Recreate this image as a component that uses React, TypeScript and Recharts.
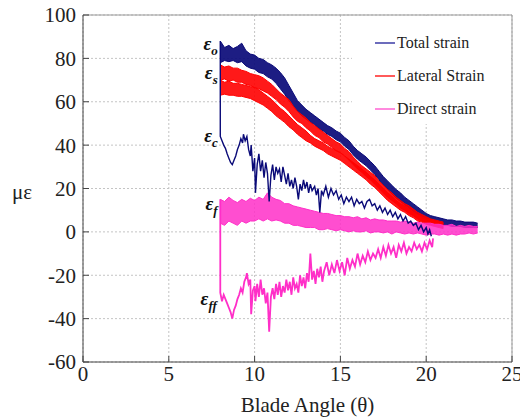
import React from 'react';
import { ComposedChart, Line, Area, XAxis, YAxis, CartesianGrid, ReferenceLine, ReferenceDot } from 'recharts';

const FONT = '"Liberation Serif", "Times New Roman", serif';
const NAVY = '#0a0a78';
const RED = '#ff0000';
const PINK = '#ff2fc8';

const xTicks = [0, 5, 10, 15, 20, 25];
const yTicks = [-60, -40, -20, 0, 20, 40, 60, 80, 100];

// blade angle samples for the dense bands
const bandX = [
  8, 8.25, 8.5, 8.75, 9, 9.25, 9.5, 9.75, 10, 10.25, 10.5, 10.75, 11, 11.25, 11.5, 11.75,
  12, 12.25, 12.5, 12.75, 13, 13.25, 13.5, 13.75, 14, 14.25, 14.5, 14.75, 15, 15.25, 15.5, 15.75,
  16, 16.25, 16.5, 16.75, 17, 17.25, 17.5, 17.75, 18, 18.25, 18.5, 18.75, 19, 19.25, 19.5, 19.75,
  20, 20.25, 20.5, 20.75, 21, 21.25, 21.5, 21.75, 22, 22.25, 22.5, 22.75, 23,
];

// total strain, eps_o band (upper / lower edge)
const totalHigh = [
  88, 85, 86, 84.5, 85.5, 87, 83.5, 82, 81.5, 80, 79.5, 78, 77, 75.5, 73.5, 71,
  67.5, 64, 60.5, 58.5, 56.5, 55, 53.5, 52, 50.5, 49, 48, 46.5, 45.5, 43.5, 42, 39.5,
  37.5, 36, 34.5, 32.5, 30.5, 28, 25.5, 23.5, 21.5, 19.5, 18, 16, 14.5, 13, 11.5, 10,
  8.5, 7.5, 7, 6.5, 6, 5.5, 5.5, 5, 5, 4.5, 4.5, 4.5, 4,
];
const totalLow = [
  78, 79, 78.5, 79, 78, 78.5, 76.5, 75.5, 75, 73.5, 73, 71.5, 70.5, 68.5, 66, 63.5,
  60.5, 58, 55.5, 53.5, 52, 50.5, 49.5, 47.5, 46.5, 45, 44, 42.5, 41.5, 39.5, 38, 35.5,
  33.5, 32, 30.5, 28.5, 26.5, 24, 21.5, 19.5, 17.5, 15.5, 14, 12.5, 11, 9.5, 8, 6.5,
  5.5, 4.5, 4, 3.5, 3, 3, 2.5, 2.5, 2.5, 2, 2, 2, 2,
];

// lateral strain, eps_s: two bands from 8 to 21
const latUpHigh = [
  77, 76, 76.5, 75.5, 75.5, 74.5, 74, 73, 72.5, 72, 71, 69.5, 68, 66, 64, 62.5,
  61, 58, 55.5, 54, 52.5, 50.5, 49, 47.5, 46, 44.5, 43, 41.5, 40.5, 38.5, 37, 34.5,
  32.5, 30.5, 29, 27.5, 26, 23.5, 21.5, 19.5, 18, 16, 14.5, 13, 12, 10.5, 9, 8,
  7, 6, 5.5, 5, 4.5,
];
const latUpLow = [
  70, 70.5, 69.5, 70, 69, 69, 68, 67.5, 66.5, 66, 65, 64, 62.5, 61, 59, 57.5,
  55.5, 53, 51, 50, 48, 46.5, 44.5, 43.5, 41.5, 40.5, 39, 37.5, 36.5, 35, 33, 31,
  29, 27.5, 25.5, 24, 22, 20, 18, 16, 14.5, 13, 11, 10, 8.5, 7.5, 6, 5,
  4, 3.5, 3, 2.5, 2,
];
const latLowHigh = [
  70, 69, 69.5, 68.5, 68.5, 68, 67.5, 67, 66.5, 65.5, 64, 62.5, 61, 59, 57, 55.5,
  53.5, 51.5, 49.5, 48, 46.5, 44.5, 43, 42, 41, 39.5, 38.5, 37.5, 36.5, 35, 33.5, 32,
  30.5, 29, 27.5, 25.5, 24, 22, 20, 18, 16.5, 14.5, 13, 12, 10.5, 9, 8, 7,
  6, 5.5, 5, 4.5, 4,
];
const latLowLow = [
  63, 63.5, 63, 63, 62.5, 62.5, 62, 61.5, 60.5, 59.5, 58.5, 57, 55.5, 53.5, 52, 50.5,
  48.5, 47, 45, 43.5, 42, 41, 39.5, 38.5, 37.5, 36, 35, 34, 33, 31.5, 30, 28.5,
  27, 25.5, 24, 22, 20.5, 18.5, 16.5, 14.5, 13, 11.5, 10, 9, 7.5, 6.5, 5, 4.5,
  3.5, 3, 2.5, 2, 1.5,
];

// direct strain, eps_f band
const directHigh = [
  15, 14, 16, 14.5, 13.5, 15, 14, 15.5, 14.5, 16, 15, 18, 16, 15, 14.5, 13,
  13, 12, 11.5, 11, 10.5, 10, 9.5, 9, 8.5, 8.5, 8, 7.5, 7.5, 7, 7, 6.5,
  7, 6, 6.5, 5.5, 6, 5.5, 5.5, 5, 5, 5, 4.5, 5, 4.5, 4, 4.5, 4,
  4, 4, 3.5, 3.5, 3, 3, 3.5, 2.5, 3, 2.5, 3, 2.5, 2.5,
];
const directLow = [
  4, 3, 5, 4, 3, 5, 4, 5, 5, 6, 5, 6, 5, 5.5, 5, 4,
  4, 3, 3, 2.5, 2, 2, 2, 1, 1, 1.5, 1, 0.5, 1, 0.5, 0, 0.5,
  0, 0, 0.5, -0.5, 0, 0, -0.5, 0, -1, 0, -0.5, -1, -0.5, -1, -0.5, -1,
  -1.5, -1, -1, -1.5, -1, -1.5, -1, -1.5, -1, -1, -0.5, -1, -0.5,
];

// eps_c trace (total strain), starts with the jump at 8 deg
const compX = [
  8, 8, 8.1, 8.2, 8.3, 8.4, 8.5, 8.6, 8.7, 8.8, 8.9, 9.0, 9.1, 9.2, 9.3, 9.35,
  9.45, 9.55, 9.65, 9.75, 9.8, 9.9, 10.0, 10.05, 10.15, 10.25, 10.35, 10.45, 10.55, 10.65, 10.75, 10.85,
  10.95, 11.05, 11.15, 11.25, 11.35, 11.45, 11.55, 11.65, 11.75, 11.85, 11.95, 12.05, 12.15, 12.25, 12.35, 12.45,
  12.55, 12.65, 12.75, 12.85, 12.95, 13.05, 13.15, 13.25, 13.35, 13.5, 13.6, 13.7, 13.8, 13.9, 14.0, 14.15,
  14.3, 14.45, 14.6, 14.75, 14.9, 15.05, 15.2, 15.35, 15.5, 15.65, 15.8, 15.95, 16.1, 16.25, 16.4, 16.55,
  16.7, 16.85, 17.0, 17.15, 17.3, 17.45, 17.6, 17.75, 17.9, 18.05, 18.2, 18.35, 18.5, 18.65, 18.8, 18.95,
  19.1, 19.25, 19.4, 19.55, 19.7, 19.85, 20.0, 20.1, 20.2, 20.3,
];
const compY = [
  88, 44, 42, 40, 38.5, 36, 34, 32, 31, 33, 35, 38, 40, 43, 41, 45,
  42, 44, 38, 35, 40, 28, 34, 18, 31, 36, 28, 33, 25, 32, 27, 14,
  26, 31, 24, 30, 27, 29, 23, 30, 26, 22, 27, 21, 24, 20, 25, 21,
  15, 22, 19, 24, 20, 23, 18, 22, 19, 21, 17, 20, 9, 19, 17, 21,
  16, 20, 17, 19, 15, 17, 13, 16, 14, 16, 12, 15, 13, 14, 11, 14,
  15, 12, 13, 10, 12, 9, 11, 8, 10, 7, 9, 6, 8, 5, 7, 4,
  5, 3, 4, 1, 3, 0, 2, -1, 1, -2,
];

// eps_ff trace (direct strain), starts with the jump at 8 deg
const ffX = [
  8, 8, 8.1, 8.2, 8.3, 8.4, 8.5, 8.6, 8.7, 8.8, 8.9, 9.0, 9.1, 9.2, 9.3, 9.4,
  9.5, 9.55, 9.65, 9.75, 9.8, 9.9, 10.0, 10.05, 10.15, 10.25, 10.35, 10.45, 10.55, 10.65, 10.75, 10.85,
  10.95, 11.05, 11.15, 11.25, 11.35, 11.45, 11.55, 11.65, 11.75, 11.85, 11.95, 12.05, 12.15, 12.25, 12.35, 12.45,
  12.55, 12.65, 12.75, 12.85, 12.95, 13.05, 13.15, 13.25, 13.35, 13.45, 13.55, 13.65, 13.75, 13.85, 13.95, 14.05,
  14.2, 14.35, 14.5, 14.65, 14.8, 14.95, 15.1, 15.25, 15.4, 15.55, 15.7, 15.85, 16.0, 16.15, 16.3, 16.45,
  16.6, 16.75, 16.9, 17.05, 17.2, 17.35, 17.5, 17.65, 17.8, 17.95, 18.1, 18.25, 18.4, 18.55, 18.7, 18.85,
  19.0, 19.15, 19.3, 19.45, 19.6, 19.75, 19.9, 20.05, 20.2, 20.35, 20.4,
];
const ffY = [
  15, -28, -32, -29, -31, -33, -35, -37, -40, -36, -34, -31, -29, -26, -28, -23,
  -21, -19, -24, -22, -38, -27, -25, -32, -24, -30, -22, -29, -26, -33, -28, -46,
  -30, -26, -31, -24, -29, -23, -30, -25, -28, -22, -27, -23, -29, -21, -26, -24,
  -28, -20, -25, -21, -26, -19, -23, -10, -22, -18, -24, -17, -21, -16, -23, -18,
  -14, -20, -15, -19, -13, -18, -14, -20, -12, -17, -13, -16, -10, -15, -11, -14,
  -9, -13, -10, -12, -8, -12, -7, -11, -6, -10, -7, -12, -6, -9, -5, -10,
  -7, -9, -5, -8, -6, -9, -5, -8, -4, -7, -3,
];

const curveLabels = [
  { sub: 'o', x: 7.85, y: 84 },
  { sub: 's', x: 7.85, y: 70.5 },
  { sub: 'c', x: 7.85, y: 41.4 },
  { sub: 'f', x: 7.85, y: 10 },
  { sub: 'ff', x: 7.8, y: -33.7 },
];

const legendItems = [
  { name: 'Total strain', color: '#6c6cbc' },
  { name: 'Lateral Strain', color: '#ff5a5a' },
  { name: 'Direct strain', color: '#ff8ade' },
];

const totalBand = bandX.map((x, i) => ({ x, range: [totalLow[i], totalHigh[i]] }));
const latUpBand = bandX.slice(0, latUpHigh.length).map((x, i) => ({ x, range: [latUpLow[i], latUpHigh[i]] }));
const latLowBand = bandX.slice(0, latLowHigh.length).map((x, i) => ({ x, range: [latLowLow[i], latLowHigh[i]] }));
const directBand = bandX.map((x, i) => ({ x, range: [directLow[i], directHigh[i]] }));
const compLine = compX.map((x, i) => ({ x, y: compY[i] }));
const ffLine = ffX.map((x, i) => ({ x, y: ffY[i] }));

const XTick = (props: any) => {
  const { x, y, payload } = props;
  const axisY = y - 4;
  return (
    <g>
      <line x1={x} x2={x} y1={axisY} y2={axisY - 6} stroke="#444" />
      <text x={x} y={y} dy="0.71em" textAnchor="middle" fontFamily={FONT} fontSize={21} fill="#222">
        {payload.value}
      </text>
    </g>
  );
};

const YTick = (props: any) => {
  const { x, y, payload } = props;
  const axisX = x + 7;
  return (
    <g>
      <line x1={axisX} x2={axisX + 6} y1={y} y2={y} stroke="#444" />
      <text x={x} y={y} dy="0.355em" textAnchor="end" fontFamily={FONT} fontSize={21} fill="#222">
        {payload.value}
      </text>
    </g>
  );
};

const EpsLabel = ({ viewBox, sub }: any) => (
  <text
    x={viewBox.x}
    y={viewBox.y}
    textAnchor="end"
    fontFamily={FONT}
    fontStyle="italic"
    fontWeight="bold"
    fontSize={19}
    fill="#111"
  >
    ε<tspan fontSize={13} dy={5}>{sub}</tspan>
  </text>
);

// white legend box sitting over the grid in the upper right corner
const LegendBox = () => (
  <div style={{ position: 'absolute', left: 352, top: 16, width: 158, height: 108, background: '#fff' }}>
    {legendItems.map((item, i) => (
      <div
        key={item.name}
        style={{
          position: 'absolute',
          left: 23,
          top: 16 + i * 33,
          height: 22,
          display: 'flex',
          alignItems: 'center',
          fontFamily: FONT,
          fontSize: 16,
          color: '#222',
          whiteSpace: 'nowrap',
        }}
      >
        <span style={{ display: 'inline-block', width: 20, height: 1.5, background: item.color, marginRight: 2 }} />
        {item.name}
      </div>
    ))}
  </div>
);

export default function App() {
  return (
    <div style={{ position: 'absolute', left: 0, top: 0, width: 520, height: 418, background: '#fff' }}>
      <ComposedChart width={520} height={418} margin={{ top: 15, right: 8, left: 0, bottom: 0 }}>
        <CartesianGrid stroke="#c4c4c4" strokeDasharray="2 2" />
        <XAxis
          dataKey="x"
          type="number"
          domain={[0, 25]}
          ticks={xTicks}
          height={56}
          tickSize={2}
          tickMargin={2}
          tickLine={false}
          tick={<XTick />}
          stroke="#444"
          allowDataOverflow
          label={{ value: 'Blade Angle (θ)', position: 'insideBottom', offset: 6, dx: 10, fontFamily: FONT, fontSize: 21, fill: '#222' }}
        />
        <YAxis
          type="number"
          domain={[-60, 100]}
          ticks={yTicks}
          width={83}
          tickSize={5}
          tickMargin={2}
          tickLine={false}
          tick={<YTick />}
          stroke="#444"
          allowDataOverflow
          label={{ value: 'με', position: 'insideLeft', offset: 12, angle: 0, dy: 3, fontFamily: FONT, fontSize: 21, fill: '#222' }}
        />
        <ReferenceLine y={100} stroke="#999" />
        <ReferenceLine x={25} stroke="#999" />

        <Area data={totalBand} dataKey="range" type="linear" stroke={NAVY} strokeWidth={1} fill={NAVY} fillOpacity={0.92} isAnimationActive={false} />
        <Line data={compLine} dataKey="y" type="linear" stroke={NAVY} strokeWidth={1.4} dot={false} isAnimationActive={false} />

        <Area data={latUpBand} dataKey="range" type="linear" stroke={RED} strokeWidth={1} fill={RED} fillOpacity={0.9} isAnimationActive={false} />
        <Area data={latLowBand} dataKey="range" type="linear" stroke={RED} strokeWidth={1} fill={RED} fillOpacity={0.9} isAnimationActive={false} />

        <Area data={directBand} dataKey="range" type="linear" stroke={PINK} strokeWidth={1} fill={PINK} fillOpacity={0.85} isAnimationActive={false} />
        <Line data={ffLine} dataKey="y" type="linear" stroke={PINK} strokeWidth={1.8} dot={false} isAnimationActive={false} />

        {curveLabels.map((l) => (
          <ReferenceDot
            key={l.sub}
            x={l.x}
            y={l.y}
            r={0}
            fill="none"
            stroke="none"
            ifOverflow="visible"
            label={(p: any) => <EpsLabel {...p} sub={l.sub} />}
          />
        ))}
      </ComposedChart>
      <LegendBox />
    </div>
  );
}
